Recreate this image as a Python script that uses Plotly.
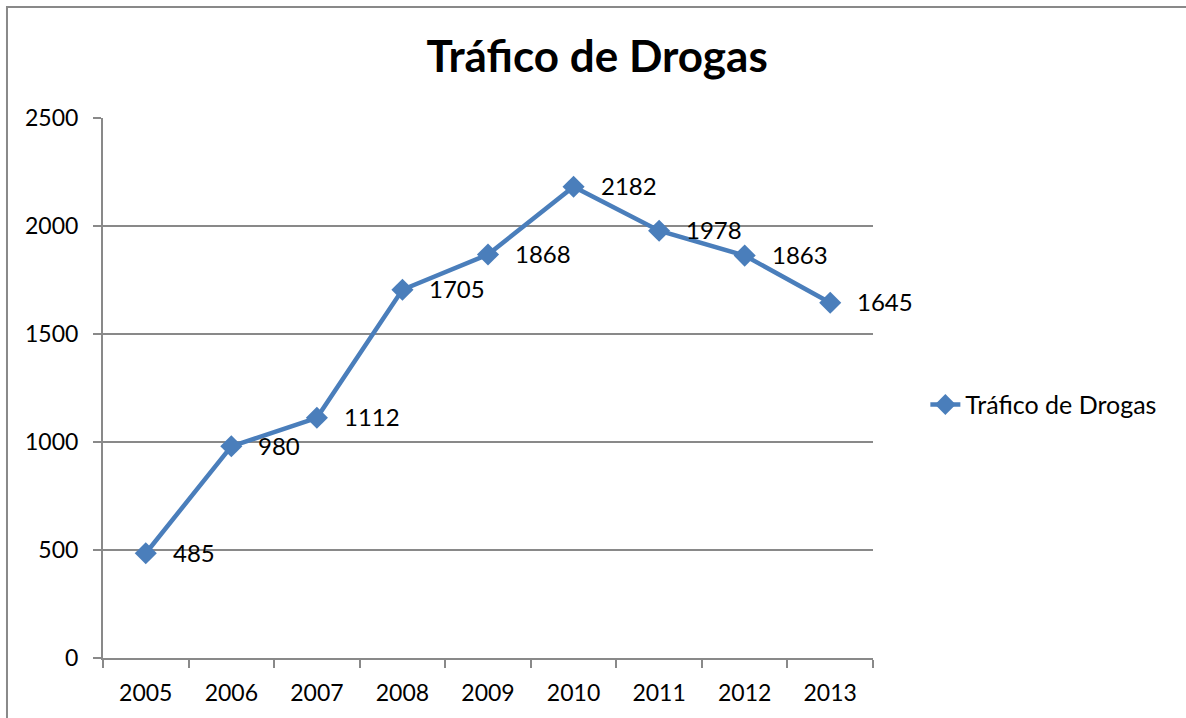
import plotly.graph_objects as go

# --- Data ---
anos = ["2005", "2006", "2007", "2008", "2009", "2010", "2011", "2012", "2013"]
casos = [485, 980, 1112, 1705, 1868, 2182, 1978, 1863, 1645]

azul = "#4A7EBB"
gris = "#898989"
fuente = "Lato"

fig = go.Figure()
fig.add_trace(go.Scatter(
    x=anos, y=casos, mode="lines+markers", name="Tráfico de Drogas",
    line=dict(color=azul, width=4.5),
    marker=dict(symbol="diamond", size=17, color=azul),
))

# data labels to the right of each point (x as category index)
for i, v in enumerate(casos):
    fig.add_annotation(x=i, y=v, text=str(v), showarrow=False,
                       xanchor="left", yanchor="middle", xshift=25, yshift=1,
                       font=dict(family=fuente, size=24, color="black"))

# outer chart border (only left/top visible in the frame)
fig.add_shape(type="rect", xref="paper", yref="paper",
              x0=-0.1247, x1=1.6, y0=-0.5, y1=1.2056,
              line=dict(color=gris, width=2), fillcolor="rgba(0,0,0,0)")

fig.update_layout(
    width=1186, height=718,
    margin=dict(l=103, r=313, t=118, b=60),
    paper_bgcolor="white", plot_bgcolor="white",
    font=dict(family=fuente, size=23, color="black"),
    title=dict(text="<b>Tráfico de Drogas</b>", x=0.5035, xanchor="center",
               y=0.921, yanchor="middle",
               font=dict(family=fuente, size=44, color="black")),
    showlegend=True,
    legend=dict(x=1.068, xanchor="left", y=0.469, yanchor="middle",
                font=dict(family=fuente, size=25, color="black"),
                bgcolor="rgba(0,0,0,0)"),
    xaxis=dict(type="category", range=[-0.5, 8.5], showgrid=False,
               showline=True, linecolor=gris, linewidth=2,
               ticks="outside", tickson="boundaries", ticklen=8,
               tickcolor=gris, tickwidth=2, ticklabelstandoff=13,
               zeroline=False),
    yaxis=dict(range=[0, 2500], dtick=500, showgrid=True, gridcolor=gris,
               gridwidth=2, showline=True, linecolor=gris, linewidth=2,
               ticks="outside", ticklen=8, tickcolor=gris, tickwidth=2,
               ticklabelstandoff=10, zeroline=False),
)

fig.write_html("out.html", config={"displayModeBar": False},
               post_script="document.body.style.margin='0';")
